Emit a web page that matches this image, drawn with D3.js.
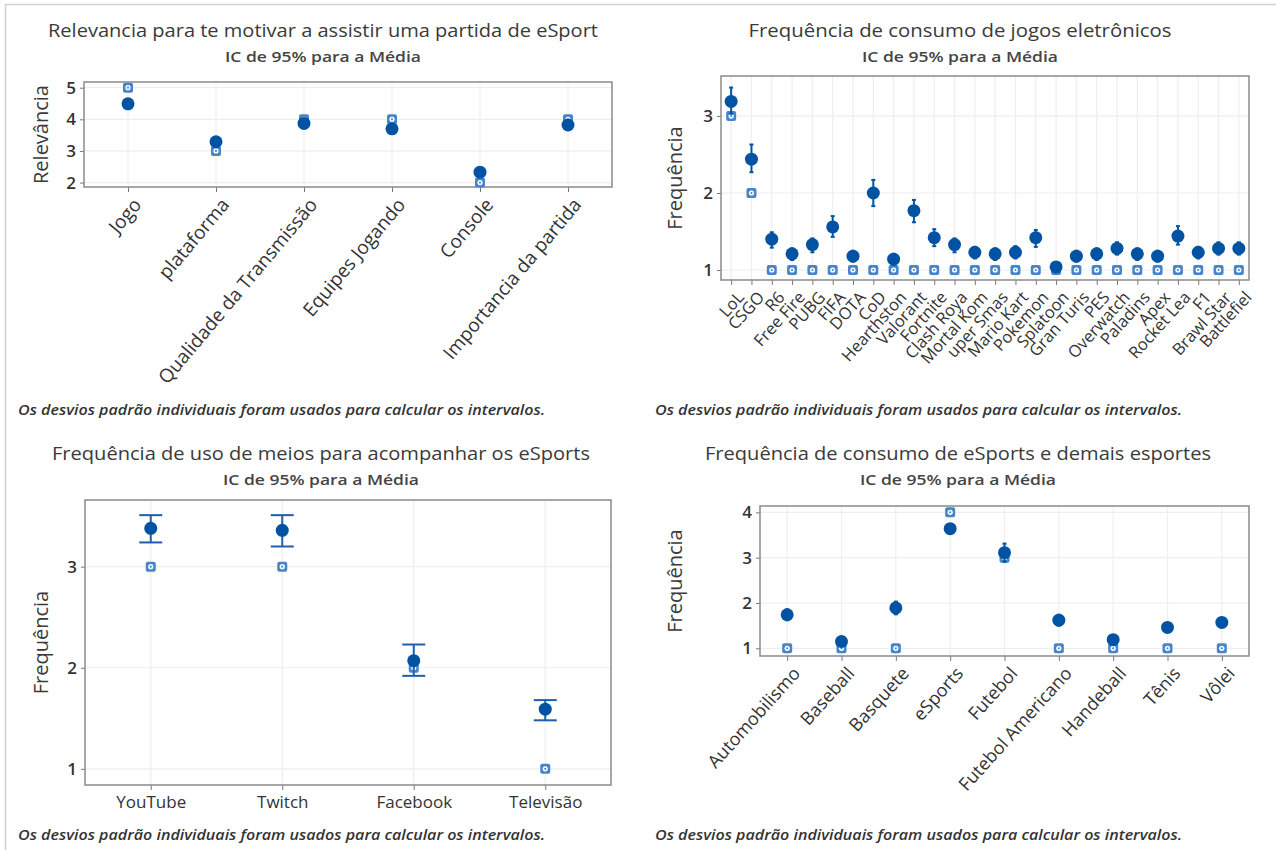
<!DOCTYPE html>
<html>
<head>
<meta charset="utf-8">
<script src="https://cdn.jsdelivr.net/npm/d3@7"></script>
<style>
  body { margin: 0; background: #fff; }
  svg { display: block; font-family: "Segoe UI", "Open Sans", "Noto Sans", sans-serif; }
</style>
</head>
<body>
<svg id="chart" width="1276" height="850"></svg>
<script>
// ---- Panel 1: relevância
const relCategories = ['Jogo', 'plataforma', 'Qualidade da Transmissão', 'Equipes Jogando', 'Console', 'Importancia da partida'];
const relMeans   = [4.49, 3.29, 3.87, 3.70, 2.33, 3.82];
const relLow     = [4.36, 3.16, 3.76, 3.58, 2.18, 3.71];
const relHigh    = [4.62, 3.42, 3.98, 3.82, 2.48, 3.93];
const relMedians = [5, 3, 4, 4, 2, 4];
const relTicks   = [2, 3, 4, 5];

// ---- Panel 2: jogos eletrônicos
const gameCategories = ['LoL', 'CSGO', 'R6', 'Free Fire', 'PUBG', 'FIFA', 'DOTA', 'CoD', 'Hearthston', 'Valorant',
  'Fortnite', 'Clash Roya', 'Mortal Kom', 'uper Smas', 'Mario Kart', 'Pokemon', 'Splatoon', 'Gran Turis', 'PES',
  'Overwatch', 'Paladins', 'Apex', 'Rocket Lea', 'F1', 'Brawl Star', 'Battlefiel'];
const gameMeans   = [3.19, 2.44, 1.40, 1.21, 1.33, 1.56, 1.18, 2.00, 1.14, 1.77, 1.42, 1.33, 1.23, 1.21, 1.23, 1.42, 1.04, 1.18, 1.21, 1.28, 1.21, 1.18, 1.44, 1.23, 1.28, 1.28];
const gameLow     = [3.03, 2.27, 1.29, 1.13, 1.23, 1.43, 1.11, 1.83, 1.07, 1.62, 1.31, 1.23, 1.15, 1.13, 1.15, 1.30, 0.99, 1.11, 1.13, 1.20, 1.13, 1.11, 1.33, 1.15, 1.20, 1.20];
const gameHigh    = [3.37, 2.63, 1.49, 1.28, 1.41, 1.70, 1.25, 2.17, 1.21, 1.91, 1.53, 1.41, 1.30, 1.28, 1.31, 1.52, 1.09, 1.25, 1.28, 1.36, 1.28, 1.25, 1.57, 1.30, 1.36, 1.36];
const gameMedians = [3, 2, 1, 1, 1, 1, 1, 1, 1, 1, 1, 1, 1, 1, 1, 1, 1, 1, 1, 1, 1, 1, 1, 1, 1, 1];
const gameTicks   = [1, 2, 3];

// ---- Panel 3: meios
const mediaCategories = ['YouTube', 'Twitch', 'Facebook', 'Televisão'];
const mediaMeans   = [3.38, 3.36, 2.07, 1.59];
const mediaLow     = [3.24, 3.20, 1.92, 1.48];
const mediaHigh    = [3.51, 3.51, 2.23, 1.68];
const mediaMedians = [3, 3, 2, 1];
const mediaTicks   = [1, 2, 3];

// ---- Panel 4: esportes
const sportCategories = ['Automobilismo', 'Baseball', 'Basquete', 'eSports', 'Futebol', 'Futebol Americano', 'Handeball', 'Tênis', 'Vôlei'];
const sportMeans   = [1.74, 1.15, 1.89, 3.64, 3.11, 1.62, 1.19, 1.46, 1.57];
const sportLow     = [1.62, 1.08, 1.75, 3.56, 2.91, 1.50, 1.10, 1.38, 1.48];
const sportHigh    = [1.86, 1.22, 2.03, 3.72, 3.31, 1.74, 1.28, 1.54, 1.66];
const sportMedians = [1, 1, 1, 4, 3, 1, 1, 1, 1];
const sportTicks   = [1, 2, 3, 4];

const subtitle = 'IC de 95% para a Média';
const footnote = 'Os desvios padrão individuais foram usados para calcular os intervalos.';

const meanColor = '#0052a3';
const medianColor = '#4585cc';
const svg = d3.select('#chart');

// page borders
svg.append('line').attr('x1', 5).attr('x2', 1276).attr('y1', 4.5).attr('y2', 4.5).attr('stroke', '#d0d0d0').attr('stroke-width', 1.5);
svg.append('line').attr('x1', 5.5).attr('x2', 5.5).attr('y1', 4).attr('y2', 850).attr('stroke', '#d0d0d0').attr('stroke-width', 1.5);

function drawPanel(p) {
  const g = svg.append('g');
  const data = p.categories.map((c, i) => ({ c, mean: p.means[i], lo: p.low[i], hi: p.high[i], med: p.medians[i] }));

  const x = d3.scalePoint().domain(p.categories).range([p.left, p.right]).padding(0.5);
  const y = d3.scaleLinear().domain(p.yDomain).range([p.bottom, p.top]);

  // titles
  g.append('text').attr('x', p.cx).attr('y', p.titleY).attr('text-anchor', 'middle')
    .attr('font-size', 19).attr('fill', '#3a3a3a')
    .attr('textLength', p.titleW).attr('lengthAdjust', 'spacingAndGlyphs').text(p.title);
  g.append('text').attr('x', p.cx).attr('y', p.titleY + 25).attr('text-anchor', 'middle')
    .attr('font-size', 15).attr('font-weight', 600).attr('fill', '#444')
    .attr('textLength', 196).attr('lengthAdjust', 'spacingAndGlyphs').text(subtitle);

  // gridlines
  g.selectAll('.hg').data(p.ticks).enter().append('line')
    .attr('x1', p.left).attr('x2', p.right).attr('y1', d => y(d)).attr('y2', d => y(d))
    .attr('stroke', '#eeeeee').attr('stroke-width', 1.2);
  g.selectAll('.vg').data(p.categories).enter().append('line')
    .attr('x1', d => x(d)).attr('x2', d => x(d)).attr('y1', p.top).attr('y2', p.bottom)
    .attr('stroke', '#eeeeee').attr('stroke-width', 1.2);

  // axes
  const yAxis = d3.axisLeft(y).tickValues(p.ticks).tickFormat(d3.format('d')).tickSize(4).tickPadding(4);
  const yg = g.append('g').attr('transform', `translate(${p.left},0)`).call(yAxis).attr('font-family', null);
  yg.select('.domain').remove();
  yg.selectAll('line').attr('stroke', '#777');
  yg.selectAll('text').attr('font-size', 17).attr('font-weight', 600).attr('fill', '#333');

  const xAxis = d3.axisBottom(x).tickSize(5).tickPadding(6);
  const xg = g.append('g').attr('transform', `translate(0,${p.bottom})`).call(xAxis).attr('font-family', null);
  xg.select('.domain').remove();
  xg.selectAll('line').attr('stroke', '#777');
  const xt = xg.selectAll('text').attr('fill', '#333');
  if (p.rotate) {
    xt.attr('font-size', p.labelSize)
      .attr('text-anchor', 'end')
      .attr('dy', null)
      .attr('y', 0).attr('x', 0)
      .attr('transform', `translate(10,15) rotate(${p.rotate})`)
      .attr('dominant-baseline', 'middle');
  } else {
    xt.attr('font-size', 17);
  }

  // frame
  g.append('rect').attr('x', p.left).attr('y', p.top)
    .attr('width', p.right - p.left).attr('height', p.bottom - p.top)
    .attr('fill', 'none').attr('stroke', '#8a8a8a').attr('stroke-width', 1.5);

  // y label
  g.append('text').attr('transform', `translate(${p.yLabelX},${(p.top + p.bottom) / 2}) rotate(-90)`)
    .attr('text-anchor', 'middle').attr('font-size', 20).attr('fill', '#3a3a3a').text(p.yLabel);

  // medians
  const med = g.selectAll('.med').data(data).enter().append('g')
    .attr('transform', d => `translate(${x(d.c)},${y(d.med)})`);
  med.append('rect').attr('x', -5).attr('y', -5).attr('width', 10).attr('height', 10).attr('rx', 2)
    .attr('fill', medianColor);
  med.append('circle').attr('r', 2.6).attr('fill', '#fff');
  med.append('circle').attr('r', 1.1).attr('fill', medianColor);

  // CI
  const cap = p.cap;
  const ci = g.selectAll('.ci').data(data).enter().append('g').attr('stroke', p.ciColor).attr('stroke-width', 2);
  ci.append('line').attr('x1', d => x(d.c)).attr('x2', d => x(d.c)).attr('y1', d => y(d.lo)).attr('y2', d => y(d.hi));
  ci.append('line').attr('x1', d => x(d.c) - cap).attr('x2', d => x(d.c) + cap).attr('y1', d => y(d.lo)).attr('y2', d => y(d.lo));
  ci.append('line').attr('x1', d => x(d.c) - cap).attr('x2', d => x(d.c) + cap).attr('y1', d => y(d.hi)).attr('y2', d => y(d.hi));

  // means
  g.selectAll('.mean').data(data).enter().append('circle')
    .attr('cx', d => x(d.c)).attr('cy', d => y(d.mean)).attr('r', 6.5).attr('fill', meanColor);

  // footnote
  g.append('text').attr('x', p.footX).attr('y', p.footY).attr('font-size', 14).attr('font-style', 'italic')
    .attr('font-weight', 600).attr('fill', '#333')
    .attr('textLength', 527).attr('lengthAdjust', 'spacingAndGlyphs').text(footnote);
}

drawPanel({
  categories: relCategories, means: relMeans, low: relLow, high: relHigh, medians: relMedians, ticks: relTicks,
  title: 'Relevancia para te motivar a assistir uma partida de eSport', titleW: 550, cx: 323, titleY: 37,
  left: 84, right: 612, top: 82, bottom: 187, yDomain: [1.86, 5.18], yLabel: 'Relevância', yLabelX: 48,
  rotate: -50, labelSize: 19, cap: 2, ciColor: meanColor, footX: 18, footY: 415
});

drawPanel({
  categories: gameCategories, means: gameMeans, low: gameLow, high: gameHigh, medians: gameMedians, ticks: gameTicks,
  title: 'Frequência de consumo de jogos eletrônicos', titleW: 423, cx: 960, titleY: 37,
  left: 721, right: 1249, top: 76, bottom: 280, yDomain: [0.87, 3.52], yLabel: 'Frequência', yLabelX: 682,
  rotate: -48, labelSize: 16.5, cap: 2, ciColor: meanColor, footX: 655, footY: 415
});

drawPanel({
  categories: mediaCategories, means: mediaMeans, low: mediaLow, high: mediaHigh, medians: mediaMedians, ticks: mediaTicks,
  title: 'Frequência de uso de meios para acompanhar os eSports', titleW: 538, cx: 321, titleY: 460,
  left: 85, right: 611, top: 500, bottom: 785, yDomain: [0.84, 3.66], yLabel: 'Frequência', yLabelX: 48,
  rotate: 0, cap: 11.5, ciColor: '#1d5fae', footX: 18, footY: 840
});

drawPanel({
  categories: sportCategories, means: sportMeans, low: sportLow, high: sportHigh, medians: sportMedians, ticks: sportTicks,
  title: 'Frequência de consumo de eSports e demais esportes', titleW: 506, cx: 958, titleY: 460,
  left: 760, right: 1249, top: 506, bottom: 656, yDomain: [0.83, 4.14], yLabel: 'Frequência', yLabelX: 682,
  rotate: -48, labelSize: 18, cap: 2, ciColor: meanColor, footX: 655, footY: 840
});
</script>
</body>
</html>
